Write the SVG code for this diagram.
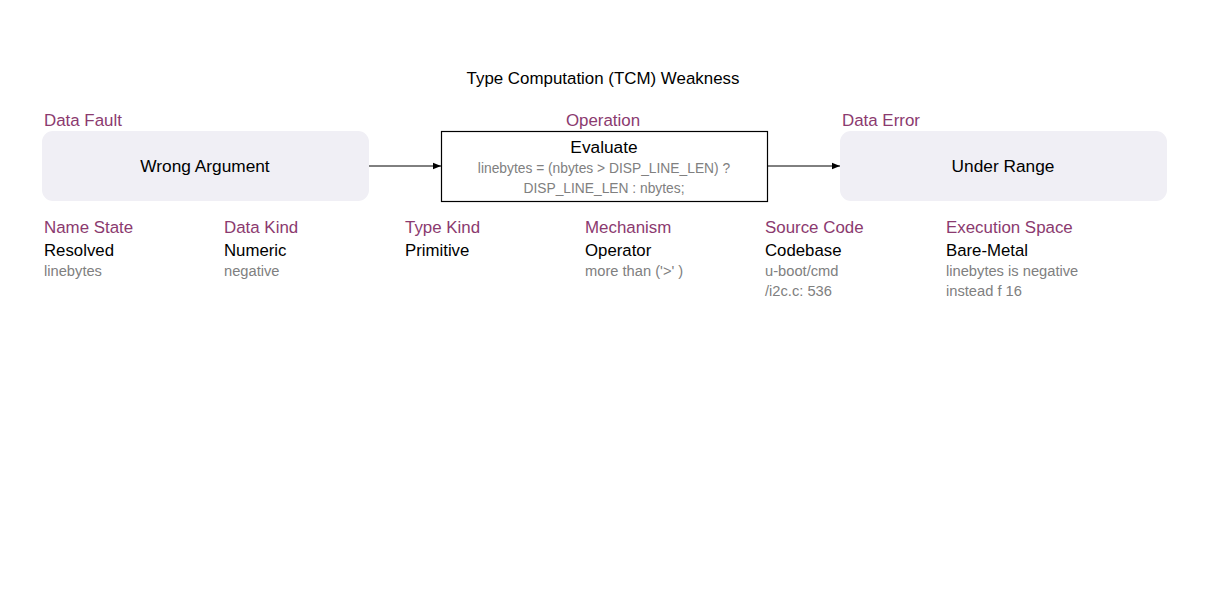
<svg xmlns="http://www.w3.org/2000/svg" width="1207" height="591" viewBox="0 0 1207 591">
<style>
text{font-family:"Liberation Sans",Arial,sans-serif}
.title{font-size:16.9px;fill:#000;text-anchor:middle}
.cat{font-size:16.9px;fill:#8b3a6f}
.catm{font-size:16.9px;fill:#8b3a6f;text-anchor:middle}
.soft{fill:#f0eff5;stroke:none}
.op{fill:#fff;stroke:#000;stroke-width:1.2}
.main{font-size:17.3px;fill:#000;text-anchor:middle}
.code{font-size:13.8px;fill:#808080;text-anchor:middle}
.val{font-size:16.8px;fill:#000}
.det{font-size:14.7px;fill:#808080}
.conn{stroke:#000;stroke-width:1;fill:none;marker-end:url(#arr)}
</style>
<defs>
<marker id="arr" viewBox="0 0 10 10" refX="10" refY="5" markerWidth="8" markerHeight="8" markerUnits="userSpaceOnUse" orient="auto">
<path d="M0,1 L10,5 L0,9 z" fill="#000"/>
</marker>
</defs>
<rect width="1207" height="591" fill="#fff"/>
<text class="title" x="603" y="84">Type Computation (TCM) Weakness</text>
<g id="connectors">
<line class="conn" x1="369" y1="166" x2="441" y2="166"/>
<line class="conn" x1="767" y1="166" x2="840" y2="166"/>
</g>
<g id="data-fault">
<text class="cat" x="44" y="126">Data Fault</text>
<rect class="soft" x="42" y="131" width="327" height="70" rx="11"/>
<text class="main" x="205" y="172">Wrong Argument</text>
</g>
<g id="operation">
<text class="catm" x="603" y="126">Operation</text>
<rect class="op" x="441.5" y="131.5" width="326" height="70"/>
<text class="main" x="604" y="153">Evaluate</text>
<text class="code" x="604" y="173">linebytes = (nbytes &gt; DISP_LINE_LEN) ?</text>
<text class="code" x="604" y="193">DISP_LINE_LEN : nbytes;</text>
</g>
<g id="data-error">
<text class="cat" x="842" y="126">Data Error</text>
<rect class="soft" x="840" y="131" width="327" height="70" rx="11"/>
<text class="main" x="1003" y="172">Under Range</text>
</g>
<g id="name-state">
<text class="cat" x="44" y="233">Name State</text>
<text class="val" x="44" y="256">Resolved</text>
<text class="det" x="44" y="276">linebytes</text>
</g>
<g id="data-kind">
<text class="cat" x="224" y="233">Data Kind</text>
<text class="val" x="224" y="256">Numeric</text>
<text class="det" x="224" y="276">negative</text>
</g>
<g id="type-kind">
<text class="cat" x="405" y="233">Type Kind</text>
<text class="val" x="405" y="256">Primitive</text>
</g>
<g id="mechanism">
<text class="cat" x="585" y="233">Mechanism</text>
<text class="val" x="585" y="256">Operator</text>
<text class="det" x="585" y="276">more than ('&gt;' )</text>
</g>
<g id="source-code">
<text class="cat" x="765" y="233">Source Code</text>
<text class="val" x="765" y="256">Codebase</text>
<text class="det" x="765" y="276">u-boot/cmd</text>
<text class="det" x="765" y="296">/i2c.c: 536</text>
</g>
<g id="execution-space">
<text class="cat" x="946" y="233">Execution Space</text>
<text class="val" x="946" y="256">Bare-Metal</text>
<text class="det" x="946" y="276">linebytes is negative</text>
<text class="det" x="946" y="296">instead f 16</text>
</g>
</svg>
